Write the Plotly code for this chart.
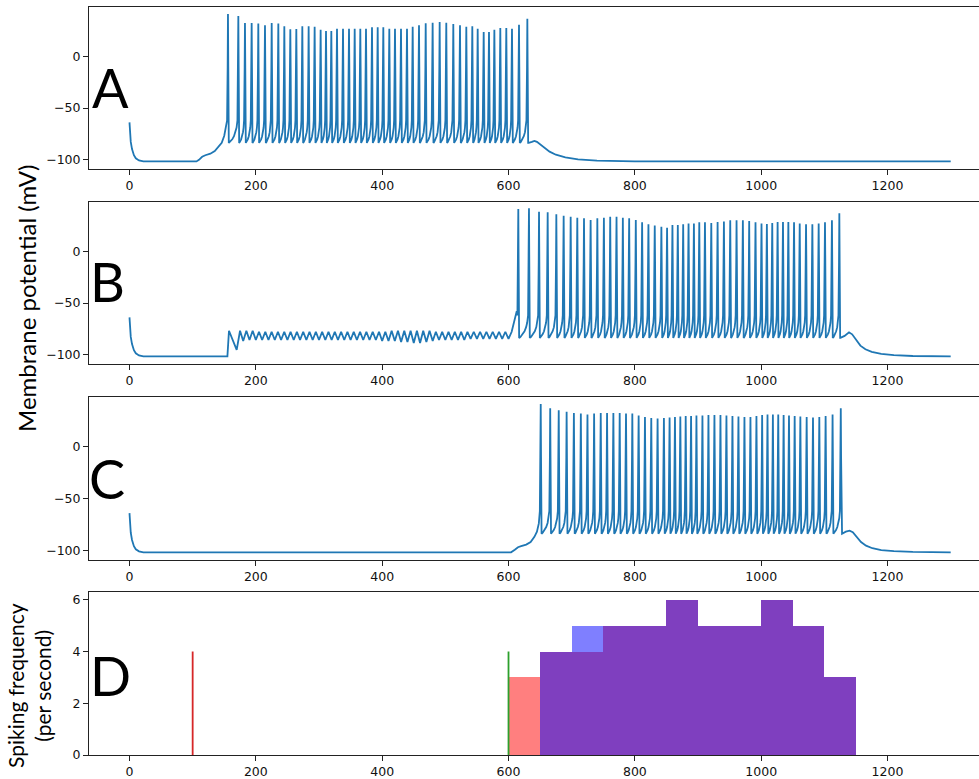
import plotly.graph_objects as go

# ---------------- data ----------------
T_END = 1300
V_REST = -102

# shared start: decay from the initial value to rest (t, V)
start_t = [0, 1, 2, 4, 7, 10, 15, 22]
start_v = [-64, -75, -83, -90, -96, -99, -101, -102]

# Panel A
a_pre_t = [106, 110, 115, 120, 128, 135, 141, 146, 150]
a_pre_v = [-102, -100.5, -97.5, -96, -94.5, -92, -88, -84, -77]
a_spk_t = [155.9, 172.3, 182.8, 193.4, 203.9, 214.5, 225.1, 235.6, 245.1, 254.6,
           264.1, 273.6, 283.6, 293.1, 302.6, 311.1, 319.5, 328.5, 338.0, 347.5,
           356.5, 365.4, 374.4, 383.9, 392.9, 401.8, 411.3, 420.3, 429.8, 439.3,
           448.3, 458.3, 468.9, 479.9, 491.0, 501.5, 512.6, 523.2, 533.2, 542.7,
           551.2, 560.7, 569.1, 577.6, 587.0, 596.5, 605.5, 616.6, 629.8]
a_spk_v = [41.6, 39.6, 32.8, 32.8, 32.2, 30.5, 32.8, 32.2, 29.6, 26.6,
           27.0, 29.6, 29.6, 29.2, 26.3, 25.0, 25.0, 27.3, 27.3, 27.3,
           27.3, 27.3, 27.3, 28.6, 28.6, 28.6, 27.3, 27.3, 27.3, 27.3,
           29.2, 30.5, 32.5, 33.1, 33.8, 33.1, 31.8, 30.5, 29.2, 29.6,
           27.3, 24.1, 24.1, 26.3, 27.9, 27.9, 27.3, 31.2, 37.0]
a_post_t = [632, 637, 641, 645, 650, 657, 665, 675, 690, 710, 740, 800]
a_post_v = [-84, -83, -82, -83, -85.5, -89, -92.5, -95.5, -98, -100, -101.3, -102]

# Panel B
b_pre_t = [155, 157.5, 163, 169.7]
b_pre_v = [-102, -77, -86, -95.7]
b_osc_t = [175, 180, 185, 190, 195, 200, 205, 210, 215, 220, 225, 230, 235, 240, 245, 250,
           255, 260, 265, 270, 275, 280, 285, 290, 295, 300, 305, 310, 315, 320, 325, 330,
           335, 340, 345, 350, 355, 360, 365, 370, 375, 380, 385, 390, 395, 400, 405, 410,
           415, 420, 425, 430, 435, 440, 445, 450, 455, 460, 465, 470, 475, 480, 485, 490,
           495, 500, 505, 510, 515, 520, 525, 530, 535, 540, 545, 550, 555, 560, 565, 570,
           575, 580, 585, 590, 595, 600, 605]
b_osc_v = [-77, -87, -77, -86, -77, -86, -78, -86, -78, -86, -78, -86, -78, -86, -78, -86,
           -78, -86, -78, -86, -78, -86, -78, -86, -78, -86, -78, -86, -78, -86, -78, -86,
           -78, -86, -78, -86, -78, -86, -78, -86, -78, -86, -78, -86, -78, -87, -78, -87,
           -77, -87, -77, -88, -77, -88, -77, -89, -77, -89, -77, -88, -77, -87, -78, -86,
           -78, -86, -78, -86, -78, -86, -78, -86, -78, -85, -78, -85, -78, -85, -78, -85,
           -78, -85, -78, -85, -78, -85, -78]
b_ramp_t = [608, 611, 613]
b_ramp_v = [-70, -65, -58]
b_spk_t = [615.5, 632.4, 648.3, 662.0, 675.7, 687.3, 698.4, 708.9, 719.5, 730.0,
           740.6, 751, 761, 771, 781, 791, 801.5, 811.5, 821.5, 831.5,
           842, 851, 859.5, 868, 876.5, 885, 893.5, 902, 911, 921,
           931, 941, 951, 961, 971, 981, 991, 1000.5, 1009, 1017.5,
           1026, 1034.5, 1043, 1052, 1061, 1071, 1081, 1091, 1101, 1112, 1123.7]
b_spk_v = [41.6, 42.2, 39.0, 38.3, 36.4, 35.1, 34.1, 33.1, 32.5, 30.9,
           32.5, 33.1, 34.1, 34.1, 33.1, 32.5, 30.9, 28.6, 26.7, 25.4,
           24.4, 23.4, 26.0, 26.0, 26.7, 27.5, 27.5, 28.6, 28.6, 28.0,
           29.0, 29.5, 30.5, 30.5, 30.5, 30.0, 28.6, 27.5, 27.0, 28.0,
           29.0, 29.0, 29.0, 28.6, 27.5, 26.7, 26.7, 27.5, 28.6, 30.5, 37.5]
b_post_t = [1125.5, 1132, 1139, 1144, 1150, 1157, 1165, 1175, 1190, 1210, 1240, 1300]
b_post_v = [-84, -82, -78.5, -80.5, -86, -91.5, -95, -97.5, -99.5, -100.8, -101.6, -102]

# Panel C
c_pre_t = [604, 610, 615, 620, 628, 635, 641, 645, 648]
c_pre_v = [-102, -99.5, -97, -96, -94.5, -92, -87, -82, -74]
c_spk_t = [651, 666, 679.5, 692, 703.5, 714.5, 725, 735.5, 746, 756,
           766, 776, 786, 796, 806, 816, 826, 836, 846, 855,
           863.5, 872, 880.5, 889, 897.5, 907, 916.5, 926, 935.5, 945,
           954.5, 964, 973.5, 983, 992.5, 1001.5, 1010, 1018.5, 1027, 1035.5,
           1044, 1053, 1062, 1072, 1082, 1092, 1102, 1113, 1126]
c_spk_v = [41.6, 37.5, 35.5, 34.0, 33.0, 32.5, 31.5, 32.5, 33.0, 33.0,
           33.0, 33.0, 32.5, 32.5, 30.5, 29.0, 28.0, 27.5, 28.0, 28.5,
           29.0, 29.5, 30.0, 30.0, 30.5, 30.5, 31.0, 31.0, 31.0, 30.5,
           30.0, 29.5, 29.0, 29.0, 30.0, 31.0, 31.5, 31.5, 31.5, 31.0,
           30.5, 30.0, 29.5, 29.0, 28.5, 29.0, 30.0, 31.5, 37.5]
c_post_t = [1128, 1134, 1140, 1145, 1151, 1158, 1166, 1176, 1190, 1210, 1240, 1300]
c_post_v = [-84, -82, -81, -82.5, -87, -92, -95.5, -98, -99.8, -100.9, -101.6, -102]

# Panel D: spikes per 50 ms bin
bin_left = [600, 650, 700, 750, 800, 850, 900, 950, 1000, 1050, 1100]
b_counts = [3, 4, 4, 5, 5, 6, 5, 5, 6, 5, 3]
c_counts = [0, 4, 5, 5, 5, 6, 5, 5, 6, 5, 3]
BIN_W = 50
marker_x = [100, 600]
marker_h = 4

# spike shape template (offsets in ms, V relative)
TROUGH = -84
UP_DT = [-1.4, -0.5]
UP_V = [-62, -10]
DOWN_DT = [0.5, 1.3]
DOWN_V = [-10, TROUGH]
RAMP_F = [0.15, 0.4, 0.6, 0.78, 0.9]
RAMP_V = [-83, -80.5, -77.5, -73.5, -69]

BLUE = "#1f77b4"


def spikes(times, peaks):
    ts, vs = [], []
    for i, (t, p) in enumerate(zip(times, peaks)):
        ts += [t + d for d in UP_DT] + [t] + [t + d for d in DOWN_DT]
        vs += UP_V + [p] + DOWN_V
        if i < len(times) - 1:
            g0 = t + DOWN_DT[-1]
            g1 = times[i + 1] + UP_DT[0]
            ts += [g0 + f * (g1 - g0) for f in RAMP_F]
            vs += RAMP_V
    return ts, vs


def trace(parts):
    ts, vs = [], []
    for pt, pv in parts:
        ts += list(pt)
        vs += list(pv)
    return ts, vs


a_st, a_sv = spikes(a_spk_t, a_spk_v)
A = trace([(start_t, start_v), (a_pre_t, a_pre_v), (a_st, a_sv), (a_post_t, a_post_v), ([T_END], [V_REST])])
b_st, b_sv = spikes(b_spk_t, b_spk_v)
B = trace([(start_t, start_v), (b_pre_t, b_pre_v), (b_osc_t, b_osc_v), (b_ramp_t, b_ramp_v),
           (b_st, b_sv), (b_post_t, b_post_v)])
c_st, c_sv = spikes(c_spk_t, c_spk_v)
C = trace([(start_t, start_v), (c_pre_t, c_pre_v), (c_st, c_sv), (c_post_t, c_post_v)])

# ---------------- figure ----------------
W, H = 979, 779
ML, MR, MT, MB = 89, 0, 7, 24
PH = H - MT - MB
panels_px = [(7, 169), (202, 364), (397, 560), (592, 755)]
doms = [[1 - (b - MT) / PH, 1 - (t - MT) / PH] for t, b in panels_px]

fig = go.Figure()
for i, (tt, vv) in enumerate([A, B, C]):
    fig.add_trace(go.Scatter(x=tt, y=vv, mode="lines", line=dict(color=BLUE, width=1.8),
                             xaxis="x" if i == 0 else f"x{i+1}", yaxis="y" if i == 0 else f"y{i+1}",
                             hoverinfo="skip", showlegend=False))

centers = [b + BIN_W / 2 for b in bin_left]
fig.add_trace(go.Scatter(x=[marker_x[0], marker_x[0]], y=[0, marker_h], mode="lines",
                         line=dict(color="#d62728", width=1.8), xaxis="x4", yaxis="y4", showlegend=False))
fig.add_trace(go.Scatter(x=[marker_x[1], marker_x[1]], y=[0, marker_h], mode="lines",
                         line=dict(color="#2ca02c", width=1.8), xaxis="x4", yaxis="y4", showlegend=False))
fig.add_trace(go.Bar(x=centers, y=b_counts, width=BIN_W, marker=dict(color="rgba(255,0,0,0.5)", line=dict(width=0)),
                     xaxis="x4", yaxis="y4", showlegend=False))
fig.add_trace(go.Bar(x=centers, y=c_counts, width=BIN_W, marker=dict(color="rgba(0,0,255,0.5)", line=dict(width=0)),
                     xaxis="x4", yaxis="y4", showlegend=False))

XR = [-64.1, 1344.8]
tickfont = dict(family="DejaVu Sans", size=12.5, color="#111")
axcommon = dict(showgrid=False, zeroline=False, showline=True, linecolor="#222", linewidth=1,
                ticks="outside", ticklen=5, tickwidth=1, tickcolor="#222", tickfont=tickfont)
layout = dict(width=W, height=H, margin=dict(l=ML, r=MR, t=MT, b=MB), plot_bgcolor="white",
              paper_bgcolor="white", barmode="overlay", bargap=0, showlegend=False)
for i in range(4):
    sx = "" if i == 0 else str(i + 1)
    layout[f"xaxis{sx}"] = dict(domain=[0, 1], range=XR, anchor=f"y{sx}", mirror=True,
                                tickvals=[0, 200, 400, 600, 800, 1000, 1200], **axcommon)
    if i < 3:
        layout[f"yaxis{sx}"] = dict(domain=doms[i], range=[-109.4, 48.4], anchor=f"x{sx}",
                                    tickvals=[-100, -50, 0], **axcommon)
    else:
        layout[f"yaxis{sx}"] = dict(domain=doms[i], range=[0, 6.3], anchor=f"x{sx}",
                                    tickvals=[0, 2, 4, 6], **axcommon)
fig.update_layout(**layout)


def px_y(y):
    return 1 - (y - MT) / PH


letters = [("A", 110, 88), ("B", 107, 281), ("C", 107, 478), ("D", 110, 675)]
for s, x, y in letters:
    fig.add_annotation(text=s, xref="paper", yref="paper", x=(x - ML) / (W - ML - MR), y=px_y(y),
                       xanchor="center", yanchor="middle", showarrow=False,
                       font=dict(family="Lato", size=54, color="black"))
fig.add_annotation(text="Membrane potential (mV)", xref="paper", yref="paper",
                   x=(26 - ML) / (W - ML - MR), y=px_y(299), textangle=-90, showarrow=False,
                   xanchor="center", yanchor="middle", font=dict(family="Lato", size=24, color="black"))
fig.add_annotation(text="Spiking frequency<br>(per second)", xref="paper", yref="paper",
                   x=(29 - ML) / (W - ML - MR), y=px_y(686), textangle=-90, showarrow=False,
                   xanchor="center", yanchor="middle", font=dict(family="Lato", size=21, color="black"))

fig.write_html("out.html")
